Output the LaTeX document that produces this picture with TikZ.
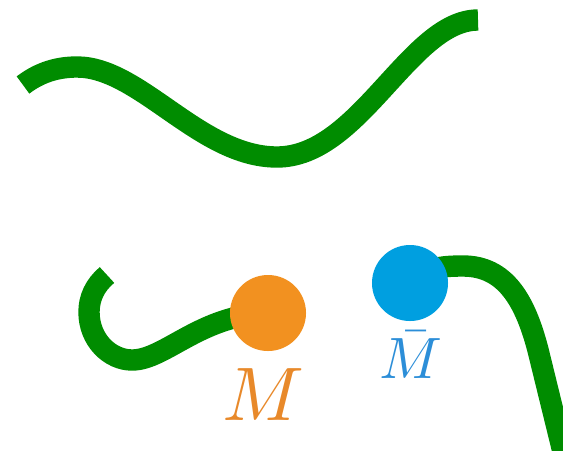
\documentclass[tikz,border=0pt]{standalone}
\usepackage{tikz}
\usetikzlibrary{positioning}
\definecolor{wire}{RGB}{0,140,0}
\definecolor{quark}{RGB}{242,145,32}
\definecolor{antiquark}{RGB}{0,159,224}
\definecolor{quarklabel}{RGB}{232,137,42}
\definecolor{antilabel}{RGB}{44,142,216}

\begin{document}
\begin{tikzpicture}[x=0.025cm,y=-0.025cm,
		string/.style={draw=wire,line width=15.2pt},
		ball/.style={circle,inner sep=0pt,minimum size=1.9cm}]
		% Rahmen
		\clip (0,0) rectangle (563,450);

		% offener String oben
		\draw[string] (23,85) .. controls (40,72) and (58,67) .. (77,67)
			.. controls (140,67) and (200,157) .. (277,157)
			.. controls (360,157) and (410,20) .. (478,20);

		% Enden der unteren Strings
		\coordinate (q) at (268,313);
		\coordinate (qbar) at (410,283);

		\draw[string] (107,275) .. controls (95,285) and (89,298) .. (89,312)
			.. controls (89,340) and (110,360) .. (132,360)
			.. controls (165,360) and (200,315) .. (q);
		\draw[string] (qbar) .. controls (425,268) and (440,266) .. (463,266)
			.. controls (505,266) and (525,300) .. (538,350) -- (565,460);

		% Teilchen
		\node[ball,fill=quark] (quark) at (q) {};
		\node[ball,fill=antiquark] (antiquark) at (qbar) {};
		\node[text=quarklabel,scale=5.4] (mlabel) at (263,395) {$M$};
		\node[text=antilabel,scale=4.15] (mbarlabel) at (411,355) {$\bar{M}$};
	\end{tikzpicture}
\end{document}
